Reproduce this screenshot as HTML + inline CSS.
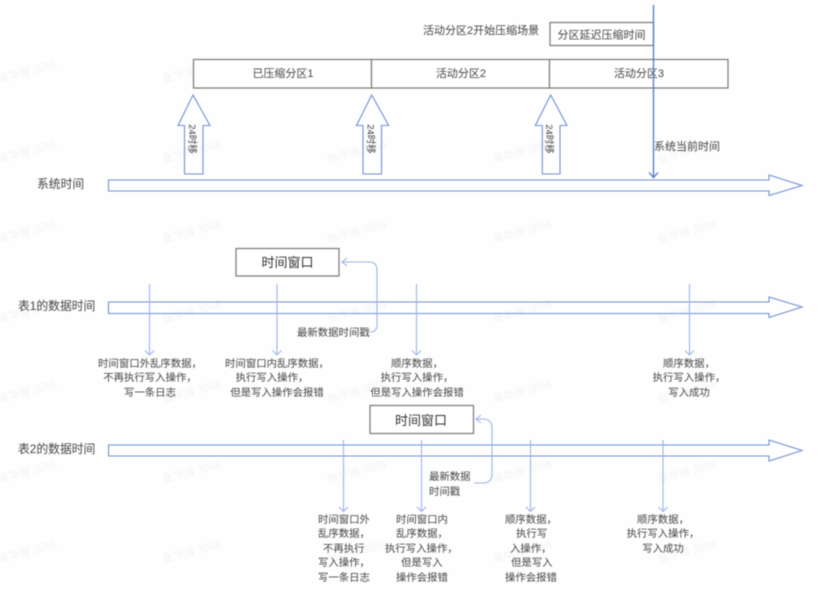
<!DOCTYPE html>
<html>
<head>
<meta charset="utf-8">
<style>
html,body{margin:0;padding:0;background:#fff;width:820px;height:600px;overflow:hidden}
svg{display:block;filter:blur(.4px)}
text{font-family:"Liberation Sans","Noto Sans CJK SC",sans-serif;font-size:10.4px;fill:#444}
.c{text-anchor:middle}
.m{font-size:11px}
.l{font-size:11.8px}
.w{font-size:11px;fill:#f3f3f3;text-anchor:middle}
.b{fill:none;stroke:#6f90d4;stroke-width:1.1}
.t{fill:none;stroke:#9db5e6;stroke-width:1.1}
.g{fill:#fff;stroke:#777;stroke-width:1.2}
.bw{font-size:13px;fill:#333}
</style>
</head>
<body>
<svg width="820" height="600" viewBox="0 0 820 600" xmlns="http://www.w3.org/2000/svg">
<rect width="820" height="600" fill="#fefefe"/>
<!-- watermarks -->
<g>
<text class="w" transform="translate(28,75) rotate(-15)">张华海 3056</text>
<text class="w" transform="translate(193,75) rotate(-15)">张华海 3056</text>
<text class="w" transform="translate(358,75) rotate(-15)">张华海 3056</text>
<text class="w" transform="translate(523,75) rotate(-15)">张华海 3056</text>
<text class="w" transform="translate(688,75) rotate(-15)">张华海 3056</text>
<text class="w" transform="translate(28,155) rotate(-15)">张华海 3056</text>
<text class="w" transform="translate(193,155) rotate(-15)">张华海 3056</text>
<text class="w" transform="translate(358,155) rotate(-15)">张华海 3056</text>
<text class="w" transform="translate(523,155) rotate(-15)">张华海 3056</text>
<text class="w" transform="translate(688,155) rotate(-15)">张华海 3056</text>
<text class="w" transform="translate(28,235) rotate(-15)">张华海 3056</text>
<text class="w" transform="translate(193,235) rotate(-15)">张华海 3056</text>
<text class="w" transform="translate(358,235) rotate(-15)">张华海 3056</text>
<text class="w" transform="translate(523,235) rotate(-15)">张华海 3056</text>
<text class="w" transform="translate(688,235) rotate(-15)">张华海 3056</text>
<text class="w" transform="translate(28,315) rotate(-15)">张华海 3056</text>
<text class="w" transform="translate(193,315) rotate(-15)">张华海 3056</text>
<text class="w" transform="translate(358,315) rotate(-15)">张华海 3056</text>
<text class="w" transform="translate(523,315) rotate(-15)">张华海 3056</text>
<text class="w" transform="translate(688,315) rotate(-15)">张华海 3056</text>
<text class="w" transform="translate(28,395) rotate(-15)">张华海 3056</text>
<text class="w" transform="translate(193,395) rotate(-15)">张华海 3056</text>
<text class="w" transform="translate(358,395) rotate(-15)">张华海 3056</text>
<text class="w" transform="translate(523,395) rotate(-15)">张华海 3056</text>
<text class="w" transform="translate(688,395) rotate(-15)">张华海 3056</text>
<text class="w" transform="translate(28,475) rotate(-15)">张华海 3056</text>
<text class="w" transform="translate(193,475) rotate(-15)">张华海 3056</text>
<text class="w" transform="translate(358,475) rotate(-15)">张华海 3056</text>
<text class="w" transform="translate(523,475) rotate(-15)">张华海 3056</text>
<text class="w" transform="translate(688,475) rotate(-15)">张华海 3056</text>
<text class="w" transform="translate(28,555) rotate(-15)">张华海 3056</text>
<text class="w" transform="translate(193,555) rotate(-15)">张华海 3056</text>
<text class="w" transform="translate(358,555) rotate(-15)">张华海 3056</text>
<text class="w" transform="translate(523,555) rotate(-15)">张华海 3056</text>
<text class="w" transform="translate(688,555) rotate(-15)">张华海 3056</text>
</g>

<!-- partitions -->
<rect class="g" x="193.5" y="59.5" width="178" height="28.5"/>
<rect class="g" x="371.5" y="59.5" width="178" height="28.5"/>
<rect class="g" x="549.5" y="59.5" width="178.5" height="28.5"/>
<text class="c m" x="283" y="77">已压缩分区1</text>
<text class="c m" x="461" y="77">活动分区2</text>
<text class="c m" x="639" y="77">活动分区3</text>

<text class="m" x="423" y="34">活动分区2开始压缩场景</text>
<rect class="g" x="550" y="22.5" width="103.5" height="23"/>
<text class="c m" x="601.5" y="38.500">分区延迟压缩时间</text>

<!-- block up arrows -->
<path class="b" d="M193,95 L210,125.5 L203,125.5 L203,174 L184.500,174 L184.500,125.500 L178,125.500 Z"/>
<path class="b" d="M371.700,95 L388.700,125.500 L381.500,125.500 L381.500,174 L363,174 L363,125.500 L356.500,125.500 Z"/>
<path class="b" d="M550.700,95 L567,125.500 L560,125.500 L560,174 L542.300,174 L542.300,125.500 L535.300,125.500 Z"/>
<text class="c" style="font-size:9.500px" transform="translate(189,139) rotate(90)">24时移</text>
<text class="c" style="font-size:9.500px" transform="translate(367.500,139) rotate(90)">24时移</text>
<text class="c" style="font-size:9.500px" transform="translate(546,139) rotate(90)">24时移</text>

<!-- timelines -->
<path class="b" d="M108.500,180 H769 V175 L802,185.500 L769,195.500 V191 H108.500 Z"/>
<path class="b" d="M108.500,302 H769 V297 L802,307 L769,317.500 V313.500 H108.500 Z"/>
<path class="b" d="M108.500,445 H769 V440 L802,450.500 L769,461 V456 H108.500 Z"/>
<text class="l" x="37" y="188">系统时间</text>
<text class="l" x="18" y="310">表1的数据时间</text>
<text class="l" x="18" y="453">表2的数据时间</text>

<!-- current time -->
<path d="M653.500,5 V177 M649,172.500 L653.500,177.500 L658,172.500" fill="none" stroke="#4f78c9" stroke-width="1.300"/>
<text class="m" x="654" y="150">系统当前时间</text>

<!-- window 1 -->
<rect class="g" x="236" y="248.500" width="103" height="27.500"/>
<text class="c bw" x="287.500" y="267">时间窗口</text>
<path class="t" d="M370,332 Q377,332 377,325 V270 Q377,262 369,262 H342 M347,258 L342,262 L347,266"/>
<text x="297" y="336">最新数据时间戳</text>
<path class="t" d="M149.500,284 V354.500 M145,350.500 L149.500,355 L154,350.500"/>
<path class="t" d="M277,284 V354.500 M272.500,350.500 L277,355 L281.500,350.500"/>
<path class="t" d="M416.500,284 V354.500 M412,350.500 L416.500,355 L421,350.500"/>
<path class="t" d="M689.500,284 V354.500 M685,350.500 L689.500,355 L694,350.500"/>

<text class="c" x="150" y="367">时间窗口外乱序数据，</text>
<text class="c" x="150" y="381">不再执行写入操作，</text>
<text class="c" x="150" y="396">写一条日志</text>
<text class="c" x="277" y="367">时间窗口内乱序数据，</text>
<text class="c" x="272" y="381">执行写入操作，</text>
<text class="c" x="277" y="396">但是写入操作会报错</text>
<text class="c" x="417" y="367">顺序数据，</text>
<text class="c" x="417" y="381">执行写入操作，</text>
<text class="c" x="417" y="396">但是写入操作会报错</text>
<text class="c" x="689" y="367">顺序数据，</text>
<text class="c" x="689" y="381">执行写入操作，</text>
<text class="c" x="689" y="396">写入成功</text>

<!-- window 2 -->
<rect class="g" x="370" y="405.500" width="103.500" height="28"/>
<text class="c bw" x="421" y="425">时间窗口</text>
<path class="t" d="M474,483 H483 Q492,483 492,474 V428 Q492,419 483,419 H476 M481,415 L476,419 L481,423"/>
<text x="429" y="480">最新数据</text>
<text x="429" y="495">时间戳</text>
<path class="t" d="M343.500,440 V511 M339,507 L343.500,511.500 L348,507"/>
<path class="t" d="M421.500,440 V511 M417,507 L421.500,511.500 L426,507"/>
<path class="t" d="M530.500,440 V511 M526,507 L530.500,511.500 L535,507"/>
<path class="t" d="M663,440 V511 M658.500,507 L663,511.500 L667.500,507"/>

<text x="318" y="523">时间窗口外</text>
<text x="318" y="537">乱序数据，</text>
<text x="323" y="552">不再执行</text>
<text x="318" y="566">写入操作，</text>
<text x="318" y="581">写一条日志</text>

<text x="396" y="523">时间窗口内</text>
<text x="396" y="537">乱序数据，</text>
<text x="385" y="552">执行写入操作，</text>
<text x="401" y="566">但是写入</text>
<text x="396" y="581">操作会报错</text>

<text x="505" y="523">顺序数据，</text>
<text x="516" y="537">执行写</text>
<text x="510" y="552">入操作，</text>
<text x="511" y="566">但是写入</text>
<text x="505" y="581">操作会报错</text>

<text class="c" x="663" y="523">顺序数据，</text>
<text class="c" x="663" y="537">执行写入操作，</text>
<text class="c" x="663" y="552">写入成功</text>
</svg>
</body>
</html>
